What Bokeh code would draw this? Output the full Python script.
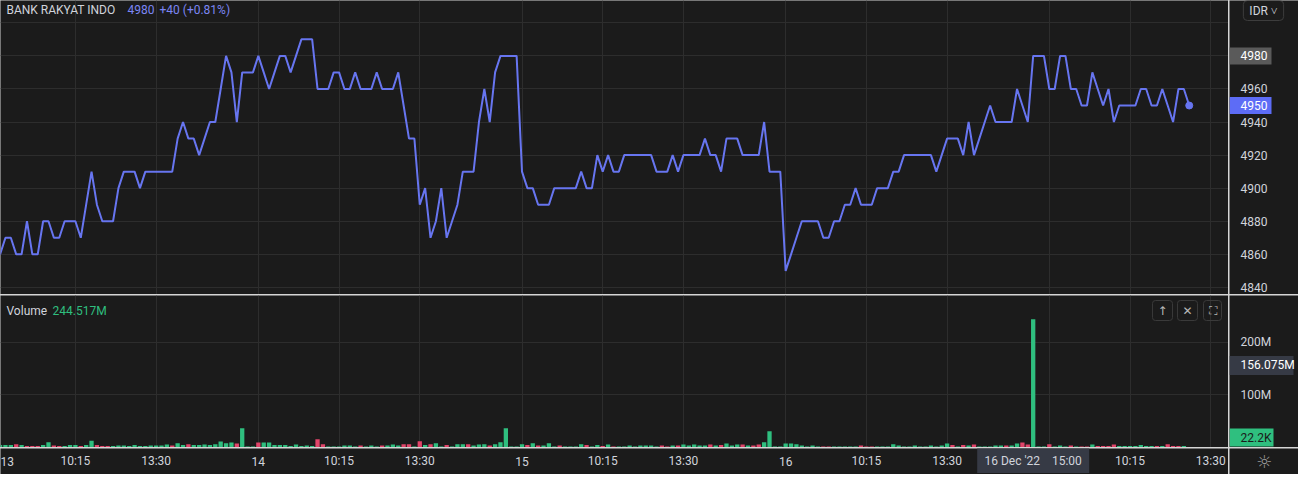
from bokeh.plotting import figure
from bokeh.layouts import column, row
from bokeh.models import ColumnDataSource, FixedTicker, Range1d, Label
from bokeh.core.properties import value
from bokeh.embed import file_html
from bokeh.resources import INLINE

# ------------------------------------------------------------------ data
symbol = "BANK RAKYAT INDO"
currency = "IDR"

# 5-minute bars, 49 per trading day (13, 14, 15, 16, 19 Dec 2022)
tick_idx = [0, 15, 30, 49, 64, 79, 98, 113, 128, 147, 162, 177, 196, 211, 226]
tick_labels = ["13", "10:15", "13:30", "14", "10:15", "13:30", "15", "10:15", "13:30",
               "16", "10:15", "13:30", "19", "10:15", "13:30"]

price = [
    4860, 4860, 4870, 4870, 4860, 4860, 4880, 4860, 4860, 4880,
    4880, 4870, 4870, 4880, 4880, 4880, 4870, 4890, 4910, 4890,
    4880, 4880, 4880, 4900, 4910, 4910, 4910, 4900, 4910, 4910,
    4910, 4910, 4910, 4910, 4930, 4940, 4930, 4930, 4920, 4930,
    4940, 4940, 4960, 4980, 4970, 4940, 4970, 4970, 4970, 4980,
    4970, 4960, 4970, 4980, 4980, 4970, 4980, 4990, 4990, 4990,
    4960, 4960, 4960, 4970, 4970, 4960, 4960, 4970, 4960, 4960,
    4960, 4970, 4960, 4960, 4960, 4970, 4950, 4930, 4930, 4890,
    4900, 4870, 4880, 4900, 4870, 4880, 4890, 4910, 4910, 4910,
    4940, 4960, 4940, 4970, 4980, 4980, 4980, 4980, 4910, 4900,
    4900, 4890, 4890, 4890, 4900, 4900, 4900, 4900, 4900, 4910,
    4900, 4900, 4920, 4910, 4920, 4910, 4910, 4920, 4920, 4920,
    4920, 4920, 4920, 4910, 4910, 4910, 4920, 4910, 4920, 4920,
    4920, 4920, 4930, 4920, 4920, 4910, 4930, 4930, 4930, 4920,
    4920, 4920, 4920, 4940, 4910, 4910, 4910, 4850, 4860, 4870,
    4880, 4880, 4880, 4880, 4870, 4870, 4880, 4880, 4890, 4890,
    4900, 4890, 4890, 4890, 4900, 4900, 4900, 4910, 4910, 4920,
    4920, 4920, 4920, 4920, 4920, 4910, 4920, 4930, 4930, 4930,
    4920, 4940, 4920, 4930, 4940, 4950, 4940, 4940, 4940, 4940,
    4960, 4950, 4940, 4980, 4980, 4980, 4960, 4960, 4980, 4980,
    4960, 4960, 4950, 4950, 4970, 4960, 4950, 4960, 4940, 4950,
    4950, 4950, 4950, 4960, 4960, 4950, 4950, 4960, 4950, 4940,
    4960, 4960, 4950,
]

volume_m = [
    3, 3.7, 3.7, 3.7, 5.5, 3.7, 1.9, 1.9, 1.9, 3.7,
    9, 3, 1.9, 1.9, 3.7, 3.7, 1.9, 3.7, 12, 3.7,
    1.9, 1.9, 1.9, 3, 3, 1.9, 3.7, 1.9, 1.9, 3,
    3, 3, 5, 3, 7.4, 3.7, 5.5, 3.7, 3.7, 5,
    3.7, 5.5, 10.5, 7.4, 8.6, 6.8, 36, 1.2, 1.2, 8.6,
    8.6, 8.6, 3.7, 3.7, 3.7, 1.9, 5, 1.9, 3, 1.9,
    15, 5.5, 1.2, 1.2, 1.2, 3, 3, 1.2, 3, 1.2,
    3, 1.2, 3, 3, 5, 3, 5.5, 5.5, 1.2, 11,
    3.7, 5.5, 7.4, 1.2, 3.7, 1.2, 5.5, 5.5, 5.5, 3,
    5, 5.5, 3, 5.5, 9, 36, 1.2, 1.2, 5.5, 3.7,
    7.4, 3, 3, 7.4, 1.2, 3, 1.2, 1.2, 1.2, 5.5,
    3.7, 1.2, 3.7, 1.9, 5, 1.2, 1.2, 1.2, 3, 1.2,
    3, 3, 3, 1.2, 3, 1.2, 3, 3, 5, 3,
    5, 3, 3, 5, 3, 3.7, 6.8, 3, 5, 5,
    3, 3, 5, 9, 30, 1.2, 1.2, 6.8, 6.8, 5.5,
    3, 1.2, 3, 1.2, 1.2, 1.2, 1.2, 1.2, 1.2, 1.2,
    1.2, 3, 1.2, 1.2, 1.2, 1.2, 1.2, 5.5, 3, 1.2,
    1.2, 3, 1.2, 1.2, 3, 1.2, 3, 6.8, 3.7, 1.2,
    3.7, 3, 5, 1.2, 1.2, 1.2, 3, 3, 3, 3,
    6.8, 8.6, 5, 244.517, 1.2, 1.2, 5.5, 1.2, 3, 1.2,
    3, 1.2, 1.2, 1.2, 5, 1.9, 1.9, 1.9, 5, 1.9,
    1.9, 1.9, 1.9, 3.7, 1.9, 1.9, 1.9, 1.9, 5.5, 1.9,
    1.9, 1.9, 0.0222,
]

vol_dir = "".join([
    "uuuududddu", "udduuuduud", "dduuuuuuuu", "uuuduuduuu", "uuuuuduuud",
    "uuuuuuuuuu", "dduuuuuudu", "uuduuuddud", "uduuduuudu", "uuduuuuuud",
    "uduuuduuuu", "duududuuuu", "uuuudduduu", "uuududuuud", "udduuuuuuu",
    "uuuudduuuu", "uddduuuuuu", "uuuuuuuudu", "duduuuuudu", "udduuuduuu",
    "dudduddddu", "uuuuuududd", "duu",
])

price_ticks = [4840, 4860, 4880, 4900, 4920, 4940, 4960, 4980, 5000]
price_tick_labels = ["4840", "4860", "4880", "4900", "4920", "4940", "4960", "4980", ""]
vol_ticks_m = [100, 200]
vol_tick_labels = ["100M", "200M"]

cross_idx = 193                 # bar under the crosshair
cross_time = "16 Dec '22\u00a0\u00a0\u00a0\u00a015:00"
cross_vol_m = 156.075           # crosshair level in the volume pane

# ------------------------------------------------------------------ style
BG = "#1b1b1b"
GRID = "#2d2d2d"
SEP = "#d6d6d6"
TXT = "#d1d4dc"
LINE = "#6775f0"
UP = "#2fbf7f"
DOWN = "#e2456a"
TAG = "#363a45"
FONT = "Roboto"

FW, RW = 1228, 69          # plot column / price-scale column widths
H1, H2, HX = 294, 152, 26  # price pane / volume pane / time scale heights


def fmt_vol(m):
    if m >= 1:
        return f"{m:.3f}M"
    return f"{m * 1000:.1f}K"


def mkfig(w, h, xr, yr):
    f = figure(width=w, height=h, x_range=xr, y_range=yr,
               x_axis_location=None, y_axis_location=None,
               output_backend="svg", toolbar_location=None,
               background_fill_color=BG, border_fill_color=BG,
               outline_line_color=None, min_border=0)
    f.xgrid.visible = False
    f.ygrid.visible = False
    return f


TXTKW = dict(text_font=value(FONT), text_font_size="12px", text_baseline="middle")

idx = list(range(len(price)))
src = ColumnDataSource(dict(
    i=idx,
    price=price,
    vol=[v * 1e6 for v in volume_m],
    col=[UP if d == "u" else DOWN for d in vol_dir],
))

xr = Range1d(1.08, 229.3)
yr_price = Range1d(4835.7, 5013.5)
yr_vol = Range1d(-0.9e6, 289.8e6)
scale_x = Range1d(0, RW)
strip_y = Range1d(0, HX)

# ------------------------------------------------------------------ price pane
p1 = mkfig(FW, H1, xr, yr_price)
p1.xgrid.visible = True
p1.ygrid.visible = True
p1.xgrid.ticker = FixedTicker(ticks=tick_idx)
p1.ygrid.ticker = FixedTicker(ticks=price_ticks)
p1.xgrid.grid_line_color = GRID
p1.ygrid.grid_line_color = GRID

p1.line(x="i", y="price", source=src, line_color=LINE, line_width=2)
p1.scatter(x=[idx[-1]], y=[price[-1]], size=7, color=LINE)

chg = price[cross_idx] - price[cross_idx - 1]
pct = chg / price[cross_idx - 1] * 100
lab_kw = dict(x_units="screen", y_units="screen", text_font=FONT,
              text_font_size="12px", text_baseline="middle")
p1.add_layout(Label(x=6, y=H1 - 9, text=symbol, text_color=TXT, **lab_kw))
p1.add_layout(Label(x=127, y=H1 - 9, text=f"{price[cross_idx]}", text_color="#7b86f4", **lab_kw))
p1.add_layout(Label(x=159, y=H1 - 9, text=f"{chg:+d} ({pct:+.2f}%)", text_color="#7b86f4", **lab_kw))

# price scale
r1 = mkfig(RW, H1, scale_x, yr_price)
r1.text(x=11, y=price_ticks, text=price_tick_labels, text_color=TXT, text_align="left", **TXTKW)
for val, colr in [(price[cross_idx], "#5a5a5a"), (price[-1], "#5d6cf6")]:
    r1.rect(x=21, y=[val], width=42, height=17, width_units="screen", height_units="screen",
            fill_color=colr, line_color=None)
    r1.text(x=11, y=[val], text=[str(val)], text_color="#ffffff", text_align="left", **TXTKW)
r1.add_layout(Label(x=34, y=H1 - 10, x_units="screen", y_units="screen",
                    text=currency + " \u02c5", text_color=TXT, text_font=FONT,
                    text_font_size="12px", text_baseline="middle", text_align="center",
                    border_line_color="#3d3d3d", border_radius=4, padding=(6, 3)))

# ------------------------------------------------------------------ volume pane
p2 = mkfig(FW, H2, xr, yr_vol)
p2.xgrid.visible = True
p2.ygrid.visible = True
p2.xgrid.ticker = FixedTicker(ticks=tick_idx)
p2.ygrid.ticker = FixedTicker(ticks=[v * 1e6 for v in vol_ticks_m])
p2.xgrid.grid_line_color = GRID
p2.ygrid.grid_line_color = GRID

p2.vbar(x="i", top="vol", bottom=0, width=0.8, fill_color="col", line_color=None, source=src)

p2.add_layout(Label(x=6, y=H2 - 15, text="Volume", text_color=TXT, **lab_kw))
p2.add_layout(Label(x=52, y=H2 - 15, text=fmt_vol(volume_m[cross_idx]), text_color=UP, **lab_kw))
for k, sym in enumerate(["\u2191", "\u2715", "\u26f6"]):
    p2.add_layout(Label(x=1162 + 25 * k, y=H2 - 15, x_units="screen", y_units="screen",
                        text=sym, text_color="#b8b8b8", text_font="DejaVu Sans",
                        text_font_size="12px", text_baseline="middle", text_align="center",
                        border_line_color="#3a3a3a", border_radius=3, padding=(5, 3)))

# volume scale
r2 = mkfig(RW, H2, scale_x, yr_vol)
r2.text(x=11, y=[v * 1e6 for v in vol_ticks_m], text=vol_tick_labels,
        text_color=TXT, text_align="left", **TXTKW)
r2.rect(x=32, y=[cross_vol_m * 1e6], width=64, height=19, width_units="screen",
        height_units="screen", fill_color=TAG, line_color=None)
r2.text(x=11, y=[cross_vol_m * 1e6], text=[fmt_vol(cross_vol_m)], text_color="#ffffff",
        text_align="left", **TXTKW)
# last-volume tag, kept inside the pane (its value sits at the pane floor)
per_px = (yr_vol.end - yr_vol.start) / H2
last_tag_y = max(volume_m[-1] * 1e6, yr_vol.start + 10 * per_px)
r2.rect(x=22, y=[last_tag_y], width=44, height=18, width_units="screen",
        height_units="screen", fill_color=UP, line_color=None)
r2.text(x=11, y=[last_tag_y], text=[fmt_vol(volume_m[-1])], text_color="#1b1b1b",
        text_align="left", **TXTKW)

# ------------------------------------------------------------------ time scale
p3 = mkfig(FW, HX, xr, strip_y)
lab_x = [max(t, xr.start) for t in tick_idx]
inner = [k for k, t in enumerate(tick_idx) if t >= xr.start]
edge = [k for k, t in enumerate(tick_idx) if t < xr.start]
p3.text(x=[lab_x[k] for k in inner], y=13.5, text=[tick_labels[k] for k in inner],
        text_color=TXT, text_align="center", **TXTKW)
if edge:
    p3.text(x=[lab_x[k] for k in edge], y=13.5, text=[tick_labels[k] for k in edge],
            text_color=TXT, text_align="left", **TXTKW)
p3.rect(x=[cross_idx], y=14, width=112, height=25, width_units="screen", height_units="screen",
        fill_color=TAG, line_color=None)
p3.text(x=[cross_idx], y=14, text=[cross_time], text_color=TXT, text_align="center", **TXTKW)

r3 = mkfig(RW, HX, scale_x, strip_y)
r3.text(x=34.5, y=13.5, text=["\u263c"], text_color="#9a9a9a", text_align="center",
        text_baseline="middle", text_font=value("DejaVu Sans"), text_font_size="18px")

# ------------------------------------------------------------------ layout
sep = {"background-color": SEP}
layout = column(
    row(p1, r1, spacing=1, styles=sep),
    row(p2, r2, spacing=1, styles=sep),
    row(p3, r3, spacing=1, styles=sep),
    spacing=1, styles=sep,
)
open("out.html", "w").write(file_html(layout, INLINE))
